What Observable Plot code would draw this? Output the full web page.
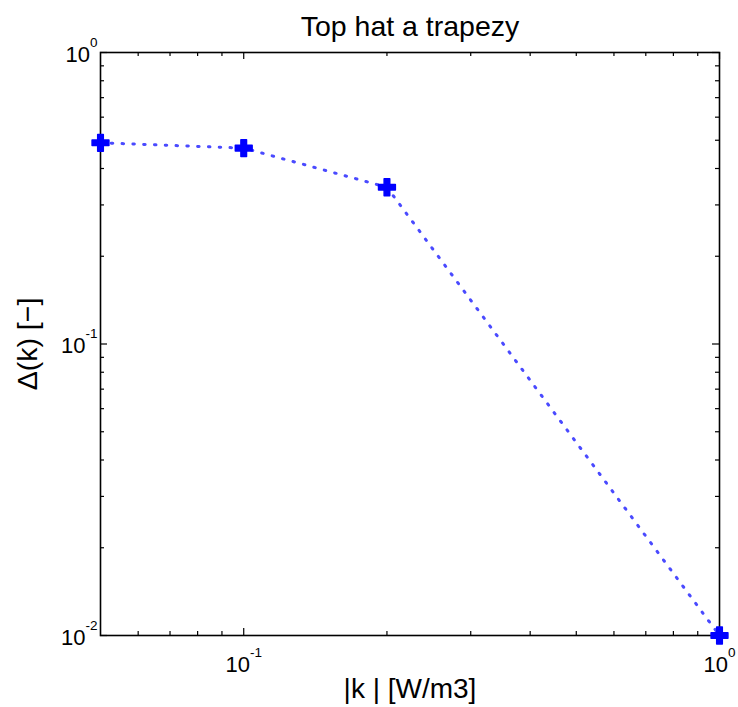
<!DOCTYPE html>
<html>
<head>
<meta charset="utf-8">
<script src="https://cdn.jsdelivr.net/npm/d3@7"></script>
<script src="https://cdn.jsdelivr.net/npm/@observablehq/plot@0.6"></script>
<style>
  html, body { margin: 0; padding: 0; background: #fff; }
  svg { font-family: "Liberation Sans", Arial, sans-serif; }
</style>
</head>
<body>
<div id="chart"></div>
<script>
// Data
const kValues = [0.05, 0.1, 0.2, 1];
const deltaValues = [0.49, 0.47, 0.345, 0.01];

// Ticks
const xMajorTicks = [0.1, 1];
const xTickLabels = ["10^-1", "10^0"];
const xMinorTicks = [0.06, 0.07, 0.08, 0.09, 0.2, 0.3, 0.4, 0.5, 0.6, 0.7, 0.8, 0.9];
const yMajorTicks = [0.01, 0.1, 1];
const yTickLabels = ["10^-2", "10^-1", "10^0"];
const yMinorTicks = [0.02, 0.03, 0.04, 0.05, 0.06, 0.07, 0.08, 0.09, 0.2, 0.3, 0.4, 0.5, 0.6, 0.7, 0.8, 0.9];

const titleText = "Top hat a trapezy";
const xLabelText = "|k | [W/m3]";
const yLabelText = "Δ(k) [−]";

const data = kValues.map((k, i) => ({k, d: deltaValues[i]}));

const W = 738, H = 707;
const mL = 100, mR = 19, mT = 52, mB = 72;
const pw = W - mL - mR, ph = H - mT - mB;
const majorLen = 7, minorLen = 4;

const plot = Plot.plot({
  width: W,
  height: H,
  marginLeft: mL, marginRight: mR, marginTop: mT, marginBottom: mB,
  style: {fontFamily: "'Liberation Sans', Arial, sans-serif", background: "#fff", color: "#000"},
  x: {type: "log", domain: [0.05, 1], axis: null},
  y: {type: "log", domain: [0.01, 1], axis: null},
  marks: [
    // inward ticks, bottom and top
    Plot.tickX(xMinorTicks, {x: d => d, insetTop: ph - minorLen, stroke: "#000", strokeWidth: 1.2}),
    Plot.tickX(xMinorTicks, {x: d => d, insetBottom: ph - minorLen, stroke: "#000", strokeWidth: 1.2}),
    Plot.tickX(xMajorTicks, {x: d => d, insetTop: ph - majorLen, stroke: "#000", strokeWidth: 1.2}),
    Plot.tickX(xMajorTicks, {x: d => d, insetBottom: ph - majorLen, stroke: "#000", strokeWidth: 1.2}),
    // inward ticks, left and right
    Plot.tickY(yMinorTicks, {y: d => d, insetRight: pw - minorLen, stroke: "#000", strokeWidth: 1.2}),
    Plot.tickY(yMinorTicks, {y: d => d, insetLeft: pw - minorLen, stroke: "#000", strokeWidth: 1.2}),
    Plot.tickY(yMajorTicks, {y: d => d, insetRight: pw - majorLen, stroke: "#000", strokeWidth: 1.2}),
    Plot.tickY(yMajorTicks, {y: d => d, insetLeft: pw - majorLen, stroke: "#000", strokeWidth: 1.2}),
    Plot.frame({stroke: "#000", strokeWidth: 1.6}),
    // tick labels
    Plot.axisX(xMajorTicks, {
      anchor: "bottom", tickSize: 0, tickPadding: 21, fontSize: 22, label: null,
      tickFormat: d => xTickLabels[xMajorTicks.indexOf(d)]
    }),
    Plot.axisY(yMajorTicks, {
      anchor: "left", tickSize: 0, tickPadding: 3, fontSize: 22, label: null, dy: 2,
      tickFormat: d => yTickLabels[yMajorTicks.indexOf(d)]
    }),
    // data
    Plot.line(data, {x: "k", y: "d", stroke: "#4a4aff", strokeWidth: 3, strokeDasharray: "1.5 9.3"}),
    Plot.dot(data, {x: "k", y: "d", symbol: "cross", r: 7.07, fill: "#0000ff", stroke: "#0000ff", strokeWidth: 1.5, strokeLinejoin: "round"}),
    // titles
    Plot.text([titleText], {frameAnchor: "top", dy: -26, fontSize: 28.5, lineAnchor: "middle", fill: "#000"}),
    Plot.text([xLabelText], {frameAnchor: "bottom", dy: 54, fontSize: 28, lineAnchor: "middle", fill: "#000"}),
    Plot.text([yLabelText], {frameAnchor: "left", dx: -73, rotate: -90, fontSize: 28.5, lineAnchor: "middle", textAnchor: "middle", fill: "#000"})
  ]
});

// superscript exponents in tick labels
d3.select(plot).selectAll('g[aria-label="x-axis tick label"] text, g[aria-label="y-axis tick label"] text').each(function() {
  const t = this.textContent;
  if (!t.includes("^")) return;
  const [base, exp] = t.split("^");
  const sel = d3.select(this);
  sel.text(null);
  sel.append("tspan").text(base);
  sel.append("tspan").attr("dy", -15).attr("font-size", 13.5).text(exp);
});

document.getElementById("chart").appendChild(plot);
</script>
</body>
</html>
